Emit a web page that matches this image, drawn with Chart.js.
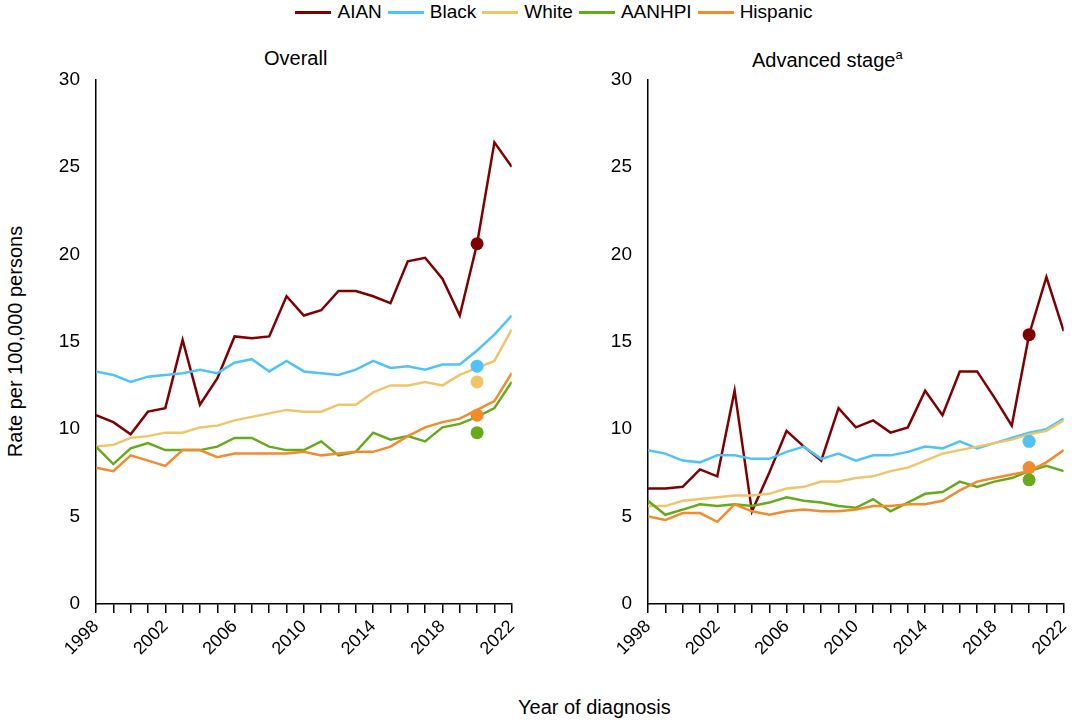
<!DOCTYPE html>
<html><head><meta charset="utf-8">
<script src="https://cdn.jsdelivr.net/npm/chart.js@4"></script>
<style>
body{margin:0;width:1080px;height:724px;background:#fff;font-family:Arial,"Liberation Sans",sans-serif;position:relative;overflow:hidden}
canvas{position:absolute}
.t{position:absolute;font-size:20px;color:#000;white-space:nowrap}
#legend{position:absolute;top:0;left:0;width:1080px;text-align:center;font-size:19px;padding-left:14px}
#legend span{display:inline-block;margin:0 3px;vertical-align:middle}
#legend i{display:inline-block;width:36px;height:3px;vertical-align:middle;margin-right:6px}
</style></head><body>
<div id="legend"></div>
<div class="t" style="left:264px;top:47px">Overall</div>
<div class="t" style="left:752px;top:47px">Advanced stage<sup style="font-size:13px">a</sup></div>
<div class="t" style="transform:rotate(-90deg);transform-origin:center;width:260px;text-align:center;left:-115px;top:330px;font-size:20px">Rate per 100,000 persons</div>
<div class="t" style="left:518px;top:696px">Year of diagnosis</div>
<canvas id="c1" style="left:40px;top:60px"></canvas>
<canvas id="c2" style="left:592px;top:60px"></canvas>
<script>
const years=[1998,1999,2000,2001,2002,2003,2004,2005,2006,2007,2008,2009,2010,2011,2012,2013,2014,2015,2016,2017,2018,2019,2020,2021,2022];
const groups=["AIAN","Black","White","AANHPI","Hispanic"];
const colors=["#7f0000","#4fc3f7","#f0c56a","#66aa1a","#f28a2e"];
const overall={
AIAN:[10.8,10.4,9.7,11.0,11.2,15.1,11.4,12.9,15.3,15.2,15.3,17.6,16.5,16.8,17.9,17.9,17.6,17.2,19.6,19.8,18.6,16.5,20.6,26.4,25.0],
Black:[13.3,13.1,12.7,13.0,13.1,13.2,13.4,13.2,13.8,14.0,13.3,13.9,13.3,13.2,13.1,13.4,13.9,13.5,13.6,13.4,13.7,13.7,14.5,15.4,16.5],
White:[9.0,9.1,9.5,9.6,9.8,9.8,10.1,10.2,10.5,10.7,10.9,11.1,11.0,11.0,11.4,11.4,12.1,12.5,12.5,12.7,12.5,13.1,13.5,13.9,15.7],
AANHPI:[9.0,8.0,8.9,9.2,8.8,8.8,8.8,9.0,9.5,9.5,9.0,8.8,8.8,9.3,8.5,8.7,9.8,9.4,9.6,9.3,10.1,10.3,10.7,11.2,12.7],
Hispanic:[7.8,7.6,8.5,8.2,7.9,8.8,8.8,8.4,8.6,8.6,8.6,8.6,8.7,8.5,8.6,8.7,8.7,9.0,9.6,10.1,10.4,10.6,11.1,11.6,13.2]};
const overallDot2020=[20.6,13.6,12.7,9.8,10.8];
const advanced={
AIAN:[6.6,6.6,6.7,7.7,7.3,12.2,5.3,7.5,9.9,9.0,8.2,11.2,10.1,10.5,9.8,10.1,12.2,10.8,13.3,13.3,11.8,10.2,15.4,18.7,15.6],
Black:[8.8,8.6,8.2,8.1,8.5,8.5,8.3,8.3,8.7,9.0,8.3,8.6,8.2,8.5,8.5,8.7,9.0,8.9,9.3,8.9,9.2,9.5,9.8,10.0,10.6],
White:[5.6,5.6,5.9,6.0,6.1,6.2,6.2,6.3,6.6,6.7,7.0,7.0,7.2,7.3,7.6,7.8,8.2,8.6,8.8,9.0,9.2,9.4,9.7,9.9,10.5],
AANHPI:[5.9,5.1,5.4,5.7,5.6,5.7,5.6,5.8,6.1,5.9,5.8,5.6,5.5,6.0,5.3,5.8,6.3,6.4,7.0,6.7,7.0,7.2,7.6,7.9,7.6],
Hispanic:[5.0,4.8,5.2,5.2,4.7,5.7,5.3,5.1,5.3,5.4,5.3,5.3,5.4,5.6,5.6,5.7,5.7,5.9,6.5,7.0,7.2,7.4,7.6,8.1,8.8]};
const advancedDot2020=[15.4,9.3,9.3,7.1,7.8];
const yTicks=[0,5,10,15,20,25,30];

document.getElementById('legend').innerHTML=groups.map((g,i)=>`<span><i style="background:${colors[i]}"></i>${g}</span>`).join('');

function make(id,data,dots){
  const c=document.getElementById(id);
  c.width=490;c.height=640;c.style.width='490px';c.style.height='640px';
  const ds=[];
  groups.forEach((g,i)=>ds.push({data:years.map((y,k)=>({x:y,y:data[g][k]})),borderColor:colors[i],borderWidth:2.5,pointRadius:0,fill:false,tension:0,order:2}));
  ds.reverse();
  groups.forEach((g,i)=>ds.push({data:[{x:2020,y:dots[i]}],showLine:false,pointRadius:6.5,pointBackgroundColor:colors[i],pointBorderWidth:0,order:1}));
  new Chart(c,{type:'line',data:{datasets:ds},options:{
    responsive:false,animation:false,
    layout:{padding:{top:15,right:18,left:0,bottom:0}},
    plugins:{legend:{display:false},tooltip:{enabled:false}},
    scales:{
      x:{type:'linear',min:1998,max:2022,
        afterFit:s=>{s.height=96},
        afterBuildTicks:s=>{s.ticks=years.map(v=>({value:v}))},
        grid:{display:true,drawOnChartArea:false,drawTicks:true,tickLength:9,color:'#000',lineWidth:1.5},
        border:{color:'#000',width:1.5},
        ticks:{color:'#000',font:{size:18,family:'Arial, Liberation Sans'},maxRotation:45,minRotation:45,autoSkip:false,
          callback:v=>((v-1998)%4===0?String(v):'')}},
      y:{min:0,max:30,
        afterFit:s=>{s.width=56},
        afterBuildTicks:s=>{s.ticks=yTicks.map(v=>({value:v}))},
        grid:{display:false},
        border:{color:'#000',width:1.5},
        ticks:{color:'#000',font:{size:19,family:'Arial, Liberation Sans'},padding:8}}
    }}});
}
make('c1',overall,overallDot2020);
make('c2',advanced,advancedDot2020);
</script></body></html>
